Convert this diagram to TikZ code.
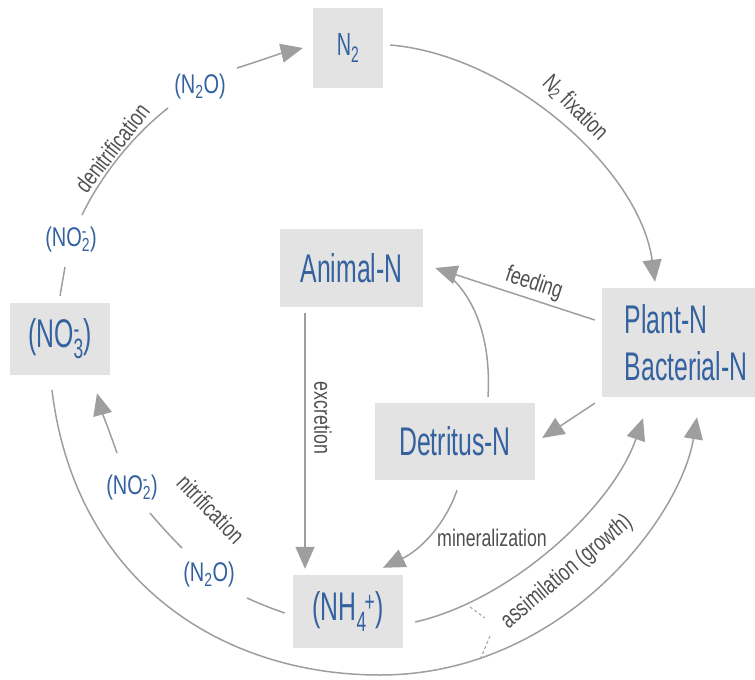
\documentclass[tikz,border=0pt]{standalone}
\usepackage{fontspec}
\usepackage{graphicx}
\setmainfont{Liberation Sans}
\usetikzlibrary{arrows.meta,calc}
\definecolor{boxgrey}{HTML}{E3E3E3}
\definecolor{nblue}{HTML}{34619F}
\definecolor{lgrey}{HTML}{9E9E9E}
\definecolor{tgrey}{HTML}{505050}
\newcommand{\subsup}[2]{\makebox[0pt][l]{\textsuperscript{#2}}\textsubscript{#1}}
\newcommand{\cond}[1]{\scalebox{0.62}[1]{#1}}
\newcommand{\lcond}[1]{\scalebox{0.74}[1]{#1}}
\begin{document}
\begin{tikzpicture}[x=1pt,y=-1pt,
  box/.style={fill=boxgrey, text=nblue, inner sep=0pt, font=\fontsize{40}{47}\selectfont},
  ln/.style={draw=lgrey, line width=1.5pt},
  arr/.style={ln, -{Triangle[length=22pt,width=19pt]}},
  tick/.style={draw=lgrey, line width=1pt, dash pattern=on 3pt off 2.5pt},
  lab/.style={text=tgrey, inner sep=1pt, font=\fontsize{24}{28}\selectfont},
  blab/.style={text=nblue, inner sep=1pt, font=\fontsize{27}{30}\selectfont}]
\clip (0,0) rectangle (755,680);
% boxes
\node[box, minimum width=70pt, minimum height=80pt, font=\fontsize{32}{38}\selectfont] (N2) at (348,48) {\cond{N\textsubscript{2}}};
\node[box, minimum width=143pt, minimum height=78pt] (Animal) at (351.5,268) {\cond{Animal-N}};
\node[box, minimum width=168pt, minimum height=109pt, align=left] (Plant) at (686,342.5) {\cond{Plant-N}\\\cond{Bacterial-N}};
\node[box, minimum width=160pt, minimum height=77pt] (Detritus) at (455,441.5) {\cond{Detritus-N}};
\node[box, minimum width=100pt, minimum height=72pt] (NO3) at (60,339) {\cond{(NO\subsup{3}{-})}};
\node[box, minimum width=110pt, minimum height=73pt] (NH4) at (348,611.5) {\cond{(NH\textsubscript{4}\kern-3pt\textsuperscript{+})}};
% labels
\node[lab, rotate=-45] (lfix) at (575,108) {\lcond{N\textsubscript{2} fixation}};
\node[lab, rotate=-18] (lfeed) at (534,284) {\lcond{feeding}};
\node[lab, rotate=-90] (lexc) at (323,418) {\lcond{excretion}};
\node[lab] (lmin) at (492,538) {\lcond{mineralization}};
\node[lab, rotate=40] (lassim) at (567,572) {\lcond{assimilation (growth)}};
\node[lab, rotate=-46] (lnit) at (211,509) {\lcond{nitrification}};
\node[lab, rotate=52] (lden) at (112,148) {\lcond{denitrification}};
\node[blab] (bN2Oa) at (200,87) {\lcond{(N\textsubscript{2}O)}};
\node[blab] (bNO2a) at (71,240) {\lcond{(NO\subsup{2}{-})}};
\node[blab] (bN2Ob) at (209,575) {\lcond{(N\textsubscript{2}O)}};
\node[blab] (bNO2b) at (132,488) {\lcond{(NO\subsup{2}{-})}};
% connectors
\draw[arr] ($(N2.east)+(7,-3)$) .. controls (510,55) and (640,170) .. ($(Plant.north)+(-31,-6)$);
\draw[arr] ($(Plant.west)+(-7,-22.5)$) -- ($(Animal.east)+(12,0)$);
\draw[ln] ($(Detritus.north)+(33,-6)$) .. controls (491,345) and (478,300) .. ($(Animal.east)+(24,6)$);
\draw[arr] ($(Plant.south west)+(-7,6)$) -- ($(Detritus.east)+(7,-3.5)$);
\draw[arr] ($(Detritus.south)+(2,10)$) .. controls (445,525) and (420,550) .. ($(NH4.north)+(35,-7)$);
\draw[arr] ($(Animal.south)+(-46.5,6)$) -- ($(NH4.north)+(-43,-6)$);
\draw[arr] ($(NH4.east)+(12,10.5)$) .. controls (512,600) and (613,506) .. ($(Plant.south)+(-43,21)$);
\draw[arr] ($(NO3.south)+(-8,15)$) .. controls (75,580) and (220,675) .. (380,675) .. controls (560,675) and (680,520) .. ($(Plant.south)+(11,20)$);
% denitrification
\draw[ln] ($(NO3.north)+(0,-7)$) -- ($(bNO2a)+(-6,27)$);
\draw[ln] ($(bNO2a)+(11,-25)$) .. controls (100,178) and (130,138) .. ($(bN2Oa)+(-32,21)$);
\draw[arr] ($(bN2Oa)+(37,-19)$) .. controls (262,60) and (282,53) .. ($(N2.west)+(-10,0)$);
% nitrification
\draw[ln] ($(NH4.west)+(-8,1.5)$) .. controls (270,608) and (258,603) .. ($(bN2Ob)+(38,23)$);
\draw[ln] ($(bN2Ob)+(-27,-27)$) .. controls (171,537) and (160,525) .. ($(bNO2b)+(18,25)$);
\draw[arr] ($(bNO2b)+(-15,-35)$) .. controls (110,433) and (102,412) .. ($(NO3.south)+(37,18)$);
% assimilation ticks
\draw[tick] ($(lassim)+(-97,35)$) -- ($(lassim)+(-82,46)$);
\draw[tick] ($(lassim)+(-77,64)$) -- ($(lassim)+(-87,88)$);
\end{tikzpicture}
\end{document}
